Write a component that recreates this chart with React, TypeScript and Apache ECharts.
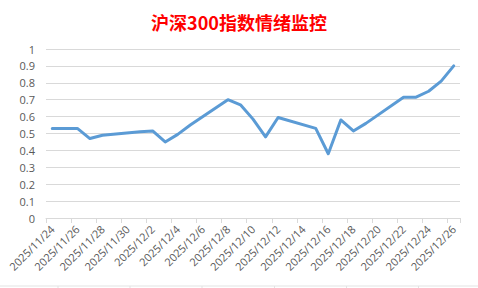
import React, { useEffect, useRef } from "react";
import * as echarts from "echarts";

const titleText = "沪深300指数情绪监控";

const dates = [
  "2025/11/24", "2025/11/25", "2025/11/26", "2025/11/27", "2025/11/28", "2025/11/29", "2025/11/30",
  "2025/12/1", "2025/12/2", "2025/12/3", "2025/12/4", "2025/12/5", "2025/12/6", "2025/12/7",
  "2025/12/8", "2025/12/9", "2025/12/10", "2025/12/11", "2025/12/12", "2025/12/13", "2025/12/14",
  "2025/12/15", "2025/12/16", "2025/12/17", "2025/12/18", "2025/12/19", "2025/12/20", "2025/12/21",
  "2025/12/22", "2025/12/23", "2025/12/24", "2025/12/25", "2025/12/26",
];

const sentiment: (number | null)[] = [
  0.53, 0.53, 0.53, 0.47, 0.49, null, null,
  0.51, 0.515, 0.45, 0.495, 0.55, null, null,
  0.70, 0.67, 0.585, 0.48, 0.595, null, null,
  0.53, 0.38, 0.58, 0.515, 0.56, null, null,
  0.715, 0.715, 0.75, 0.81, 0.90,
];

const yMin = 0;
const yMax = 1;
const yStep = 0.1;

const cellLineXs = [58, 130, 202, 274.5, 346.5, 418.5];

export default function App() {
  const ref = useRef<HTMLDivElement>(null);
  useEffect(() => {
    if (!ref.current) return;
    const chart = echarts.init(ref.current, null, { renderer: "svg" });
    const labelFont = "'Open Sans', 'Liberation Sans', sans-serif";
    chart.setOption({
      animation: false,
      backgroundColor: "#ffffff",
      title: {
        text: titleText,
        left: "center",
        top: 8,
        textStyle: {
          color: "#ff0000",
          fontSize: 18,
          fontWeight: "bold",
          fontFamily: "'Noto Sans CJK SC', sans-serif",
        },
      },
      grid: { left: 46, right: 18, top: 49, bottom: 70, containLabel: false },
      xAxis: {
        type: "category",
        data: dates,
        boundaryGap: true,
        axisLine: { show: true, lineStyle: { color: "#d9d9d9", width: 1 } },
        axisTick: { show: true, interval: 1, length: 5, lineStyle: { color: "#d9d9d9" } },
        axisLabel: {
          interval: 1,
          rotate: 45,
          margin: 9,
          color: "#595959",
          fontSize: 11,
          fontFamily: labelFont,
        },
        splitLine: { show: false },
      },
      yAxis: {
        type: "value",
        min: yMin,
        max: yMax,
        interval: yStep,
        axisLine: { show: false },
        axisTick: { show: false },
        axisLabel: {
          color: "#595959",
          fontSize: 11,
          fontFamily: labelFont,
          margin: 11,
        },
        splitLine: { show: true, lineStyle: { color: "#d9d9d9", width: 1 } },
      },
      series: [
        {
          type: "line",
          data: sentiment,
          connectNulls: true,
          showSymbol: false,
          symbol: "none",
          lineStyle: { color: "#5b9bd5", width: 3, join: "round", cap: "round" },
          itemStyle: { color: "#5b9bd5" },
        },
      ],
      graphic: [
        {
          type: "line",
          shape: { x1: 0, y1: 286, x2: 478, y2: 286 },
          style: { stroke: "#e3e3e3", lineWidth: 1 },
          silent: true,
        },
        ...cellLineXs.map((x) => ({
          type: "line",
          shape: { x1: x, y1: 286, x2: x, y2: 288 },
          style: { stroke: "#e3e3e3", lineWidth: 1 },
          silent: true,
        })),
      ],
    });
    return () => chart.dispose();
  }, []);
  return (
    <div
      ref={ref}
      style={{ position: "fixed", left: 0, top: 0, width: 478, height: 288 }}
    />
  );
}
